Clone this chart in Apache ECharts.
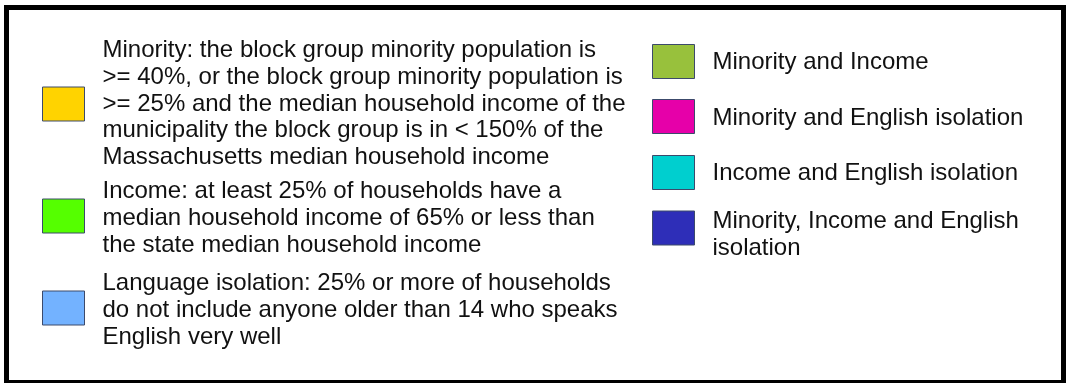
<!DOCTYPE html>
<html lang="en">
<head>
    <meta charset="UTF-8">
    <title>Legend</title>
    <script src="https://cdn.jsdelivr.net/npm/echarts@6/dist/echarts.min.js"></script>
    <style>
        html, body { margin: 0; padding: 0; background: #fff; }
    </style>
</head>
<body>
<div id="main" style="width:1066px; height:383px;"></div>
</body>
<script type="text/javascript">

    // legend categories (left column, then right column)
    let leftNames = [
        'Minority: the block group minority population is\n>= 40%, or the block group minority population is\n>= 25% and the median household income of the\nmunicipality the block group is in < 150% of the\nMassachusetts median household income',
        'Income: at least 25% of households have a\nmedian household income of 65% or less than\nthe state median household income',
        'Language isolation: 25% or more of households\ndo not include anyone older than 14 who speaks\nEnglish very well'
    ];
    let leftColors = ['#ffd300', '#55ff00', '#73b2ff'];

    let rightNames = [
        'Minority and Income',
        'Minority and English isolation',
        'Income and English isolation',
        'Minority, Income and English\nisolation'
    ];
    let rightColors = ['#98c13c', '#e600a9', '#00cfcf', '#2e2eb8'];

    // swatch top positions and how far the text sits below the swatch centre
    let leftTops = [87, 199, 291];
    let leftNudge = [0, 2.5, 2.5];
    let rightTops = [44, 99, 155, 211];
    let rightNudge = [1, 1.5, 1, 7];

    let lineH = 26.7;
    let boxW = 42;
    let boxH = 34;

    let chart = echarts.init(document.getElementById('main'));

    function makeLegend(name, color, left, swatchTop, nudge) {
        let n = name.split('\n').length;
        // taller item with the square kept at the top, so the text centre drops by "nudge"
        let itemH = boxH + 2 * nudge;
        let icon = 'path://M0 0H' + boxW + 'V' + boxH + 'H0ZM0 ' + itemH;
        let top = swatchTop + Math.min(0, itemH / 2 - n * lineH / 2);
        return {
            left: left,
            top: top,
            padding: 0,
            selectedMode: false,
            itemWidth: boxW,
            itemHeight: itemH,
            icon: icon,
            data: [{
                name: name,
                itemStyle: {color: color, borderColor: '#3c4a6b', borderWidth: 1}
            }],
            textStyle: {
                fontFamily: 'Liberation Sans, Arial, sans-serif',
                fontSize: 24,
                lineHeight: lineH,
                color: '#111111',
                padding: [0, 0, 0, 13]
            }
        };
    }

    let legends = [];
    let series = [];
    leftNames.forEach(function (nm, i) {
        legends.push(makeLegend(nm, leftColors[i], 42, leftTops[i], leftNudge[i]));
        series.push({type: 'pie', name: nm, data: [], showEmptyCircle: false, itemStyle: {color: leftColors[i]}});
    });
    rightNames.forEach(function (nm, i) {
        legends.push(makeLegend(nm, rightColors[i], 652, rightTops[i], rightNudge[i]));
        series.push({type: 'pie', name: nm, data: [], showEmptyCircle: false, itemStyle: {color: rightColors[i]}});
    });

    let option = {
        animation: false,
        backgroundColor: '#ffffff',
        legend: legends,
        // outer black frame
        graphic: [{
            type: 'rect',
            shape: {x: 6.5, y: 7.5, width: 1057, height: 375},
            style: {fill: 'none', stroke: '#000', lineWidth: 5}
        }],
        series: series
    };

    chart.setOption(option);
</script>
</html>
